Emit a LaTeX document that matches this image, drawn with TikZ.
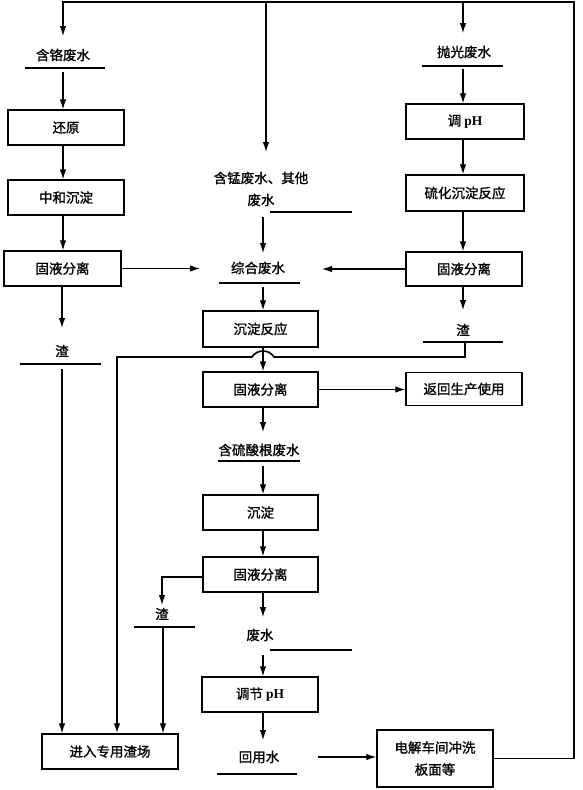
\documentclass[tikz,border=0pt]{standalone}
\usepackage{fontspec}
\setmainfont{Liberation Serif}
\newfontfamily\cjk{Noto Sans CJK SC}[FakeBold=1.2]
\newfontfamily\lat{Liberation Serif}
\usetikzlibrary{arrows.meta}
\begin{document}
\begin{tikzpicture}[x=1pt,y=-1pt,
  box/.style={draw,line width=1.4pt,minimum width=116pt,minimum height=35pt,inner sep=0pt,font=\cjk\fontsize{13.5}{16}\selectfont},
  lbl/.style={inner sep=0pt,font=\cjk\fontsize{13.5}{16}\selectfont},
  ul/.style={line width=1.3pt},
  conn/.style={line width=1.1pt},
  connB/.style={line width=1.6pt},
  arr/.style={conn,-{Latex[length=10pt,width=6.5pt]}},
]
\useasboundingbox (0,0) rectangle (582,790);
% boxes
\node[box] (huanyuan) at (66,127.5) {还原};
\node[box] (zhonghe) at (66,197.5) {中和沉淀};
\node[box,minimum width=117pt] (gy1) at (62.5,268.5) {固液分离};
\node[box,minimum width=118pt] (tiaopH) at (465,121.5) {调 {\lat\bfseries pH}};
\node[box,minimum width=118pt,minimum height=36pt] (liuhua) at (465,193) {硫化沉淀反应};
\node[box,minimum height=34pt] (gy3) at (464,269) {固液分离};
\node[box,minimum width=115pt,minimum height=36pt] (cdfy) at (260.5,329) {沉淀反应};
\node[box,minimum width=115pt] (gy2) at (260.5,389.5) {固液分离};
\node[box,minimum height=33pt] (fanhui) at (464,389) {返回生产使用};
\node[box,minimum width=115pt] (chendian) at (260.5,512.5) {沉淀};
\node[box,minimum width=115pt] (gy4) at (260.5,574.5) {固液分离};
\node[box] (tiaojie) at (260,694.5) {调节 {\lat\bfseries pH}};
\node[box,minimum height=57pt,align=center,font=\cjk\fontsize{13.5}{22}\selectfont] (dianjie) at (435,758.5) {电解车间冲洗\\板面等};
\node[box,minimum width=136pt] (jinru) at (110,751.5) {进入专用渣场};
% labels
\node[lbl] (ge) at (63,55) {含铬废水};
\draw[ul] (25,68) -- (105,68);
\node[lbl] (zha1) at (62,351) {渣};
\draw[ul] (20,364) -- (101,364);
\node[lbl,align=center,font=\cjk\fontsize{13.5}{22}\selectfont] (meng) at (261,189) {含锰废水、其他\\废水};
\draw[ul] (270,212) -- (352,212);
\node[lbl] (zonghe) at (258,268) {综合废水};
\draw[ul] (219,283) -- (300,283);
\node[lbl] (paoguang) at (464,52) {抛光废水};
\draw[ul] (422,66) -- (503,66);
\node[lbl] (zha3) at (463,330) {渣};
\draw[ul] (423,342) -- (503,342);
\node[lbl] (liusuan) at (259,450) {含硫酸根废水};
\draw[ul] (218,461) -- (300,461);
\node[lbl] (zha4) at (162,614) {渣};
\draw[ul] (134,627) -- (195,627);
\node[lbl] (feishui) at (260,635) {废水};
\draw[ul] (270,650) -- (352,650);
\node[lbl] (huiyong) at (259,757) {回用水};
\draw[ul] (217,774) -- (297,774);
% coordinates
\coordinate (rc) at (574,2);
\coordinate (topL) at (63,2);
\coordinate (tipL) at (63,36);
\coordinate (topM) at (266,2);
\coordinate (tipM) at (266,152);
\coordinate (topR) at (463,2);
\coordinate (tipR) at (463,33);
\coordinate (geb) at (63,72);
\coordinate (zhtipL) at (200,268.5);
\coordinate (zha1t) at (62,328);
\coordinate (zha1b) at (62,369);
\coordinate (mengb) at (263,217);
\coordinate (zhtop) at (263,253);
\coordinate (zhb) at (263,287);
\coordinate (lsT) at (263,432);
\coordinate (lsb) at (263,466);
\coordinate (z4a) at (162,577);
\coordinate (z4t) at (162,605);
\coordinate (z4b) at (163,628);
\coordinate (fsT) at (263,617);
\coordinate (fsb) at (263,655);
\coordinate (hyT) at (263,740);
\coordinate (hyR) at (318,757);
\coordinate (pgb) at (463,69);
\coordinate (zhtipR) at (322,269);
\coordinate (z3t) at (463,310);
\coordinate (z3b) at (465,342);
\coordinate (hopR) at (274,357);
\coordinate (hopL) at (252,357);
\coordinate (c117) at (117,357);
% top loop
\draw[arr] (dianjie.east) -| (rc) -- (topL) -- (tipL);
\draw[arr] (topM) -- (tipM);
\draw[arr] (topR) -- (tipR);
% left column
\draw[arr] (geb) -- (huanyuan.north -| geb);
\draw[arr] (huanyuan.south -| geb) -- (zhonghe.north -| geb);
\draw[arr] (zhonghe.south -| geb) -- (gy1.north -| geb);
\draw[arr] (gy1.east) -- (zhtipL);
\draw[arr] (gy1.south -| zha1t) -- (zha1t);
\draw[arr] (zha1b) -- (jinru.north -| zha1b);
% middle column
\draw[arr] (mengb) -- (zhtop);
\draw[arr] (zhb) -- (cdfy.north -| zhb);
\draw[arr] (cdfy.south -| zhb) -- (gy2.north -| zhb);
\draw[arr] (gy2.east) -- (fanhui.west |- gy2.east);
\draw[arr] (gy2.south -| zhb) -- (lsT);
\draw[arr] (lsb) -- (chendian.north -| lsb);
\draw[arr] (chendian.south -| lsb) -- (gy4.north -| lsb);
\draw[arr] (gy4.west |- z4a) -- (z4a) -- (z4t);
\draw[arr] (z4b) -- (jinru.north -| z4b);
\draw[arr] (gy4.south -| lsb) -- (fsT);
\draw[arr] (fsb) -- (tiaojie.north -| fsb);
\draw[arr] (tiaojie.south -| fsb) -- (hyT);
\draw[arr] (hyR) -- (dianjie.west |- hyR);
% right column
\draw[arr] (pgb) -- (tiaopH.north -| pgb);
\draw[arr] (tiaopH.south -| pgb) -- (liuhua.north -| pgb);
\draw[arr] (liuhua.south -| pgb) -- (gy3.north -| pgb);
\draw[arr] (gy3.west) -- (zhtipR);
\draw[arr] (gy3.south -| z3t) -- (z3t);
\draw[arr,connB] (z3b) |- (hopR) .. controls (269,349) and (257,349) .. (hopL) -- (c117) -- (jinru.north -| c117);
\end{tikzpicture}
\end{document}
